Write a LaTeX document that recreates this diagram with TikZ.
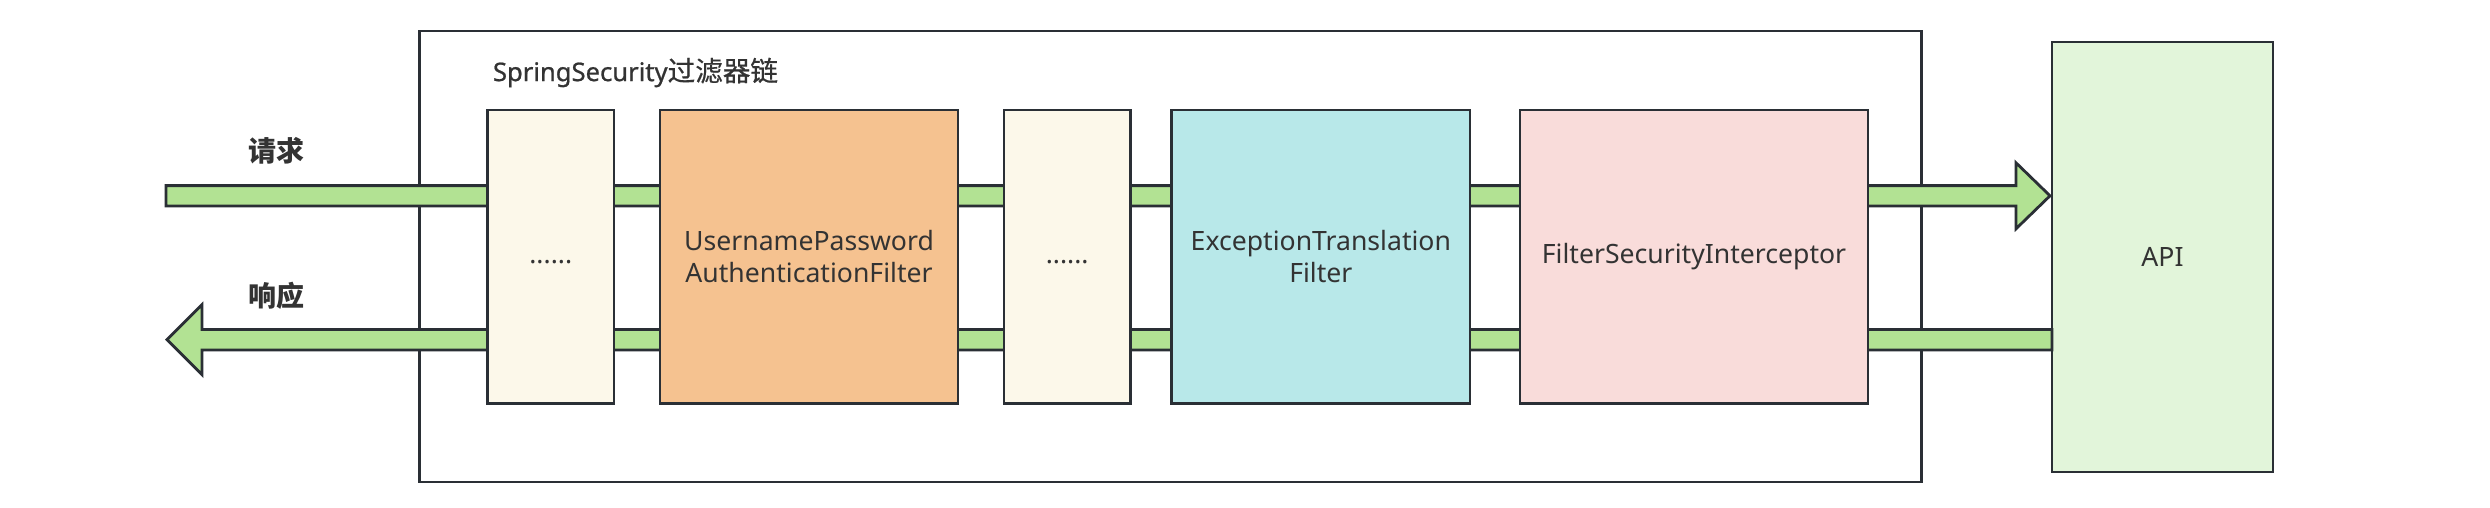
\documentclass[tikz,border=0pt]{standalone}
\usepackage{fontspec}
\setmainfont{Noto Sans}
\newfontfamily\cjk{Noto Sans CJK SC}
\newfontfamily\titlelat{Noto Sans}[FakeBold=0.8]
\newfontfamily\titlecjk{Noto Sans CJK SC}[FakeBold=0.6]
\usetikzlibrary{calc}
\definecolor{edge}{HTML}{2A2F35}
\definecolor{txt}{HTML}{333333}
\definecolor{cream}{HTML}{FCF8EA}
\definecolor{orangef}{HTML}{F5C290}
\definecolor{cyanf}{HTML}{B8E8E9}
\definecolor{pinkf}{HTML}{F9DCDA}
\definecolor{apif}{HTML}{E2F5DA}
\definecolor{arrowf}{HTML}{B2E293}
\begin{document}
\begin{tikzpicture}[x=0.5pt,y=-0.5pt,
  every node/.style={inner sep=0pt,outer sep=0pt},
  bodytext/.style={text=txt,align=center,font=\fontsize{13.3}{16}\selectfont},
  filterbox/.style={bodytext,draw=edge,line width=1.4pt,minimum height=146.75pt},
  container/.style={draw=edge,line width=1.4pt},
  flow/.style={draw=edge,fill=arrowf,line width=1.4pt,line join=miter},
  lbl/.style={text=txt,font=\cjk\bfseries\fontsize{14}{16}\selectfont}]
\useasboundingbox[fill=white] (0,0) rectangle (2490,508);
% container
\node[container,minimum width=751pt,minimum height=225.5pt] (chain) at (1170.5,256.5) {};
\node[anchor=west,text=txt] (title) at (493,72.5)
  {{\titlelat\fontsize{12.8}{15}\selectfont SpringSecurity}{\titlecjk\fontsize{13.8}{15}\selectfont 过滤器链}};
% API
\node[filterbox,fill=apif,minimum width=110.5pt,minimum height=215pt] (api) at (2162.5,257) {API};
% labels
\node[lbl] (req) at (276,150.5) {请求};
\node[lbl] (resp) at (276,296) {响应};
% request arrow
\coordinate (reqin) at (166,195.8);
\coordinate (reqtip) at ($(api.west|-reqin)+(-2,0)$);
\draw[flow] ($(reqin)+(0,-10.2)$) -- ($(reqtip)+(-34,-10.2)$) -- ++(0,-22.8) -- (reqtip)
  -- ($(reqtip)+(-34,33)$) -- ++(0,-22.8) -- ($(reqin)+(0,10.2)$) -- cycle;
% response arrow
\coordinate (resptip) at (167,339.7);
\coordinate (respend) at (api.west|-resptip);
\draw[flow] (resptip) -- ++(35,-35) -- ++(0,24.8) -- ($(respend)+(0,-10.2)$) -- ($(respend)+(0,10.2)$)
  -- ($(resptip)+(35,10.2)$) -- ++(0,24.8) -- cycle;
% filters
\node[filterbox,fill=cream,minimum width=63.25pt] (f1) at (550.75,256.75) {\strut......};
\node[filterbox,fill=orangef,minimum width=149pt] (f2) at (809,256.75) {UsernamePassword\\AuthenticationFilter};
\node[filterbox,fill=cream,minimum width=63.15pt] (f3) at (1067.15,256.75) {\strut......};
\node[filterbox,fill=cyanf,minimum width=149.15pt] (f4) at (1320.85,256.75) {ExceptionTranslation\\Filter};
\node[filterbox,fill=pinkf,minimum width=174pt] (f5) at (1694,256.75) {FilterSecurityInterceptor};
\end{tikzpicture}
\end{document}
